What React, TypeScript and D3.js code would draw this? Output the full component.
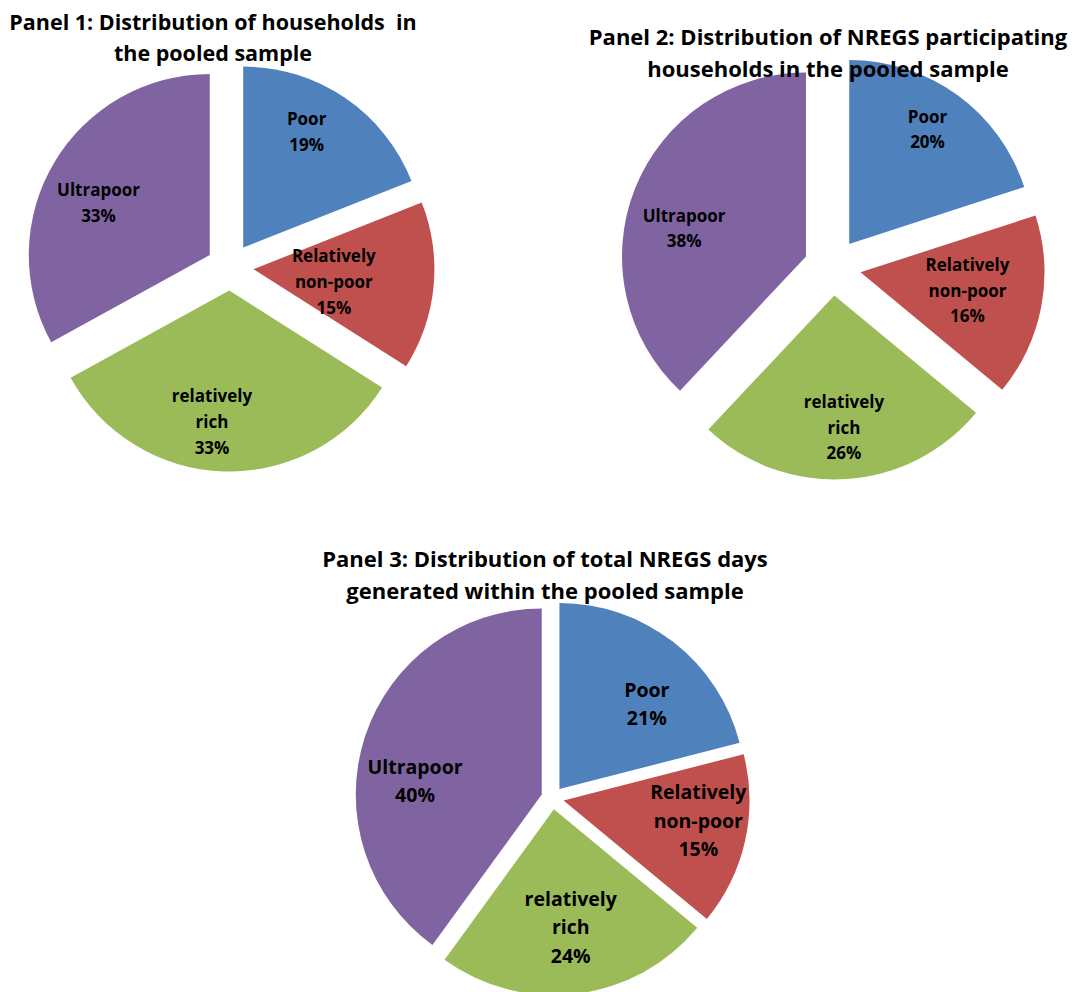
import React from 'react';
import * as d3 from 'd3';

// household categories, in slice order (clockwise from 12 o'clock)
const categories = ['Poor', 'Relatively non-poor', 'relatively rich', 'Ultrapoor'];
const categoryLines = [['Poor'], ['Relatively', 'non-poor'], ['relatively', 'rich'], ['Ultrapoor']];
const colors = ['#4F81BD', '#C0504D', '#9BBB59', '#8064A2'];

// shares in percent
const households = [19, 15, 33, 33];
const participating = [20, 16, 26, 38];
const nregsDays = [21, 15, 24, 40];

const titles1 = ['Panel 1: Distribution of households  in', 'the pooled sample'];
const titles2 = ['Panel 2: Distribution of NREGS participating', 'households in the pooled sample'];
const titles3 = ['Panel 3: Distribution of total NREGS days', 'generated within the pooled sample'];

const FONT = "'Open Sans', 'DejaVu Sans', sans-serif";

const panels = [
  {
    values: households, title: titles1,
    cx: 230, cy: 267, r: 181, explode: 23.5,
    titleX: 213, titleY: [29.5, 61], titleSize: 21.5,
    labelSize: 17, lineStep: 26,
    labelRatio: [0.73, 0.45, 0.73, 0.68], labelShift: [-5.5, 3.6, 5.7, -5.3],
  },
  {
    values: participating, title: titles2,
    cx: 832.5, cy: 267, r: 184, explode: 28.5,
    titleX: 828, titleY: [45, 77], titleSize: 22,
    labelSize: 17, lineStep: 25.5,
    labelRatio: [0.755, 0.59, 0.72, 0.68], labelShift: [-1.7, -1.1, -0.6, -8.6],
  },
  {
    values: nregsDays, title: titles3,
    cx: 552.5, cy: 798, r: 186, explode: 11.3,
    titleX: 545, titleY: [566.5, 598.5], titleSize: 22,
    labelSize: 19.5, lineStep: 28.5,
    labelRatio: [0.655, 0.733, 0.64, 0.685], labelShift: [8, -4, -0.9, -12],
  },
];

const pie = d3.pie<number>().sort(null).value((d) => d);
const rad = Math.PI / 180;

const Panel = ({ p }: { p: typeof panels[number] }) => {
  const arc = d3.arc<d3.PieArcDatum<number>>().innerRadius(0).outerRadius(p.r);
  const arcs = pie(p.values);
  const total = d3.sum(p.values);

  return (
    <g>
      <g transform={`translate(${p.cx},${p.cy})`}>
        {arcs.map((a, i) => {
          const mid = (a.startAngle + a.endAngle) / 2;
          const ox = Math.sin(mid) * p.explode;
          const oy = -Math.cos(mid) * p.explode;
          return (
            <path key={i} d={arc(a) || ''} fill={colors[i]} transform={`translate(${ox},${oy})`} />
          );
        })}
        {arcs.map((a, i) => {
          const mid = (a.startAngle + a.endAngle) / 2;
          const la = mid + p.labelShift[i] * rad;
          const lr = p.labelRatio[i] * p.r;
          const x = Math.sin(mid) * p.explode + Math.sin(la) * lr;
          const y = -Math.cos(mid) * p.explode - Math.cos(la) * lr;
          const pct = d3.format('.0%')(a.data / total);
          const lines = [...categoryLines[i], pct];
          const n = lines.length;
          return (
            <text
              key={categories[i]}
              x={x}
              textAnchor="middle"
              fontFamily={FONT}
              fontWeight="bold"
              fontSize={p.labelSize}
              fill="#000"
            >
              {lines.map((t, j) => (
                <tspan key={j} x={x} y={y + (j - (n - 1) / 2) * p.lineStep + p.labelSize * 0.36}>
                  {t}
                </tspan>
              ))}
            </text>
          );
        })}
      </g>
      <text textAnchor="middle" fontFamily={FONT} fontWeight="bold" fontSize={p.titleSize} fill="#000">
        {p.title.map((t, j) => (
          <tspan key={j} x={p.titleX} y={p.titleY[j]} style={{ whiteSpace: 'pre' }}>
            {t}
          </tspan>
        ))}
      </text>
    </g>
  );
};

export default function App() {
  return (
    <svg
      width={1077}
      height={992}
      style={{ position: 'absolute', left: 0, top: 0, background: '#fff' }}
    >
      <rect width={1077} height={992} fill="#fff" />
      {panels.map((p, i) => (
        <Panel key={i} p={p} />
      ))}
    </svg>
  );
}
